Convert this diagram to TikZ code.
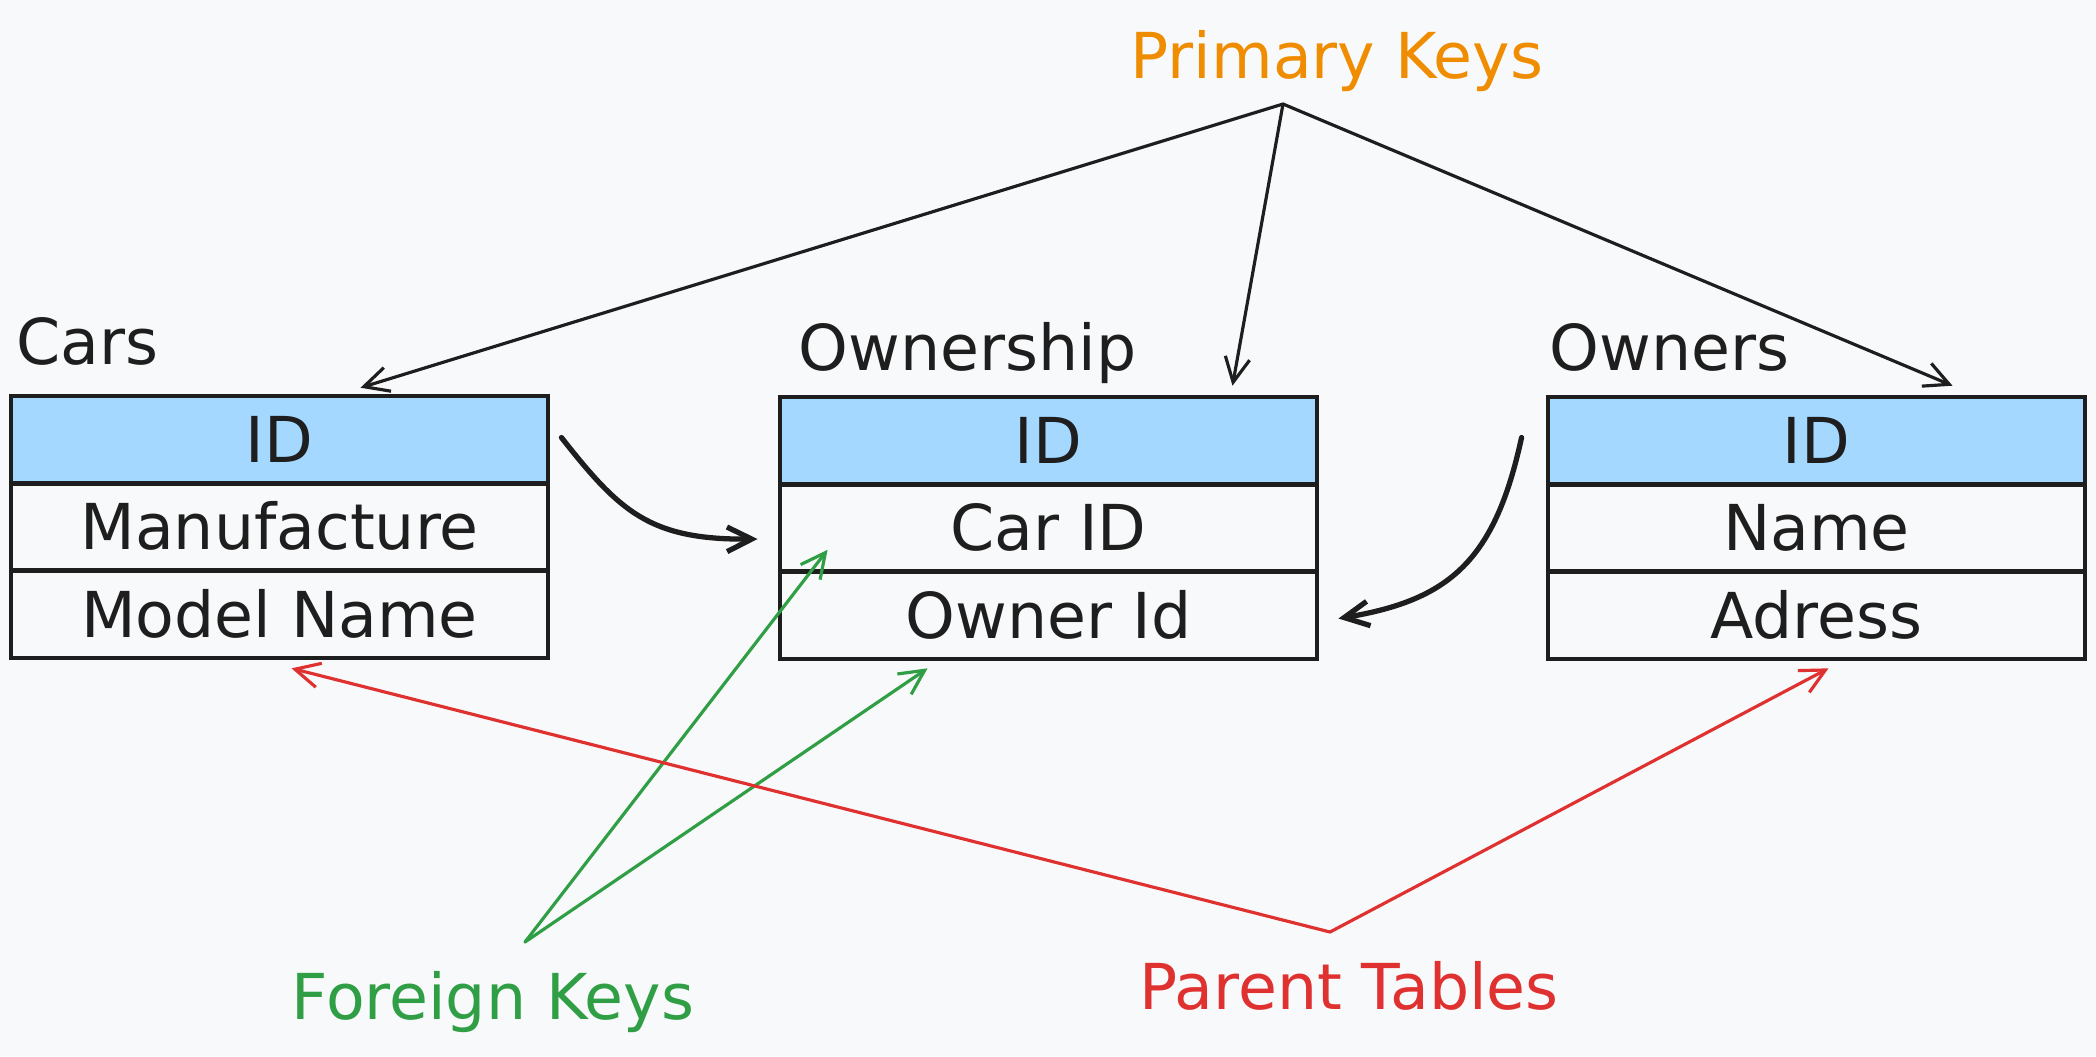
\documentclass[tikz,border=0pt]{standalone}
\usepackage{fontspec}
\setmainfont{DejaVu Sans}
\usetikzlibrary{arrows.meta,calc}
\definecolor{bg}{HTML}{F8F9FA}
\definecolor{pkblue}{HTML}{A5D8FF}
\definecolor{ink}{HTML}{1E1E1E}
\definecolor{pkorange}{HTML}{F08C00}
\definecolor{fkgreen}{HTML}{2F9E44}
\definecolor{ptred}{HTML}{E03131}
\begin{document}
\begin{tikzpicture}[x=0.01cm,y=-0.01cm,
  row/.style={draw=ink, line width=1.3pt, fill=bg, minimum width=5.37cm, minimum height=0.87cm,
    inner sep=0pt, text height=13pt, text depth=0pt, font=\fontsize{18}{20}\selectfont, text=ink},
  keyrow/.style={row, fill=pkblue},
  title/.style={anchor=base west, inner sep=0pt, font=\fontsize{18}{20}\selectfont, text=ink},
  note/.style={anchor=base, inner sep=0pt, font=\fontsize{18}{20}\selectfont},
  link/.style={line width=0.9pt, -{Straight Barb[length=7pt,width=7pt]}, line cap=round, line join=round},
  rel/.style={draw=ink, line width=1.5pt, -{Straight Barb[length=7pt,width=7pt]}, line cap=round, line join=round}
]
\fill[bg] (0,0) rectangle (2096,1056);
\useasboundingbox (0,0) rectangle (2096,1056);

% Cars table
\node[keyrow] (carsid) at (279.5,439.5) {ID};
\node[row] (cmanu) at (279.5,527) {Manufacture};
\node[row] (cmodel) at (279.5,614.5) {Model Name};
\node[title] (carslbl) at (16,364) {Cars};

% Ownership table
\node[keyrow] (oid) at (1048.5,440.5) {ID};
\node[row] (ocar) at (1048.5,528) {Car ID};
\node[row] (oowner) at (1048.5,615.5) {Owner Id};
\node[title] (oshiplbl) at (798,370) {Ownership};

% Owners table
\node[keyrow] (wid) at (1816.5,440.5) {ID};
\node[row] (wname) at (1816.5,528) {Name};
\node[row] (waddr) at (1816.5,615.5) {Adress};
\node[title] (ownerslbl) at (1549,370) {Owners};

% Notes
\node[note, text=pkorange] (pk) at (1337,78) {Primary Keys};
\node[note, text=fkgreen] (fk) at (493,1019) {Foreign Keys};
\node[note, text=ptred] (pt) at (1349,1009) {Parent Tables};

\coordinate (pko) at (1283,104);
\coordinate (fko) at (525,942);
\coordinate (pto) at (1330,932);

% Primary key arrows
\draw[link, draw=ink] (pko) -- ($(carsid.north)+(81,-6)$);
\draw[link, draw=ink] (pko) -- ($(oid.north)+(184,-9)$);
\draw[link, draw=ink] (pko) -- ($(wid.north)+(136,-9)$);

% Relations
\draw[rel] ($(carsid.east)+(11,-2)$) .. controls (620,512) and (650,540) .. ($(ocar.west)+(-20,11)$);
\draw[rel] ($(wid.west)+(-24,-3)$) .. controls (1495,560) and (1450,600) .. ($(oowner.east)+(19,3)$);

% Foreign key arrows
\draw[link, draw=fkgreen] (fko) -- ($(ocar.south west)+(50,-24)$);
\draw[link, draw=fkgreen] (fko) -- ($(oowner.south west)+(150,7)$);

% Parent table arrows
\draw[link, draw=ptred] (pto) -- ($(cmodel.south)+(12,8)$);
\draw[link, draw=ptred] (pto) -- ($(waddr.south)+(12,7)$);
\end{tikzpicture}
\end{document}
